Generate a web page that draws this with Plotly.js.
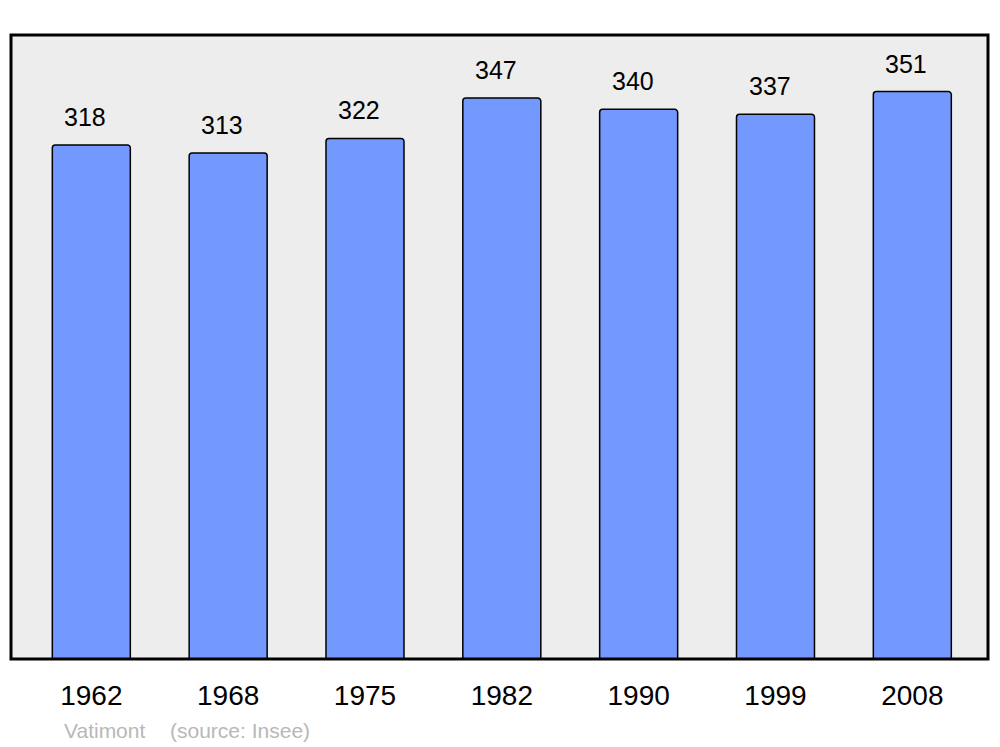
<!DOCTYPE html>
<html>
<head>
<meta charset="utf-8">
<script src="https://cdn.plot.ly/plotly-3.0.1.min.js"></script>
<style>html,body{margin:0;padding:0;background:#fff;}#chart{width:1000px;height:747px;}</style>
</head>
<body>
<div id="chart"></div>
<script>
const years = ["1962", "1968", "1975", "1982", "1990", "1999", "2008"];
const population = [318, 313, 322, 347, 340, 337, 351];
const commune = "Vatimont";
const source = "(source: Insee)";

const positions = years.map((_, i) => i);
const font = '"Liberation Sans", Arial, sans-serif';

const trace = {
  type: 'bar',
  x: positions,
  y: population,
  width: 0.57,
  marker: {color: '#7399ff', line: {color: '#000', width: 1.5}, cornerradius: 3},
  hoverinfo: 'skip'
};

const annotations = population.map((v, i) => ({
  x: i, y: v, xref: 'x', yref: 'y', text: String(v), showarrow: false,
  yanchor: 'middle', xanchor: 'center', yshift: 28, xshift: -6,
  font: {family: font, size: 25, color: '#000'}
}));
annotations.push({
  xref: 'paper', yref: 'paper', x: 0.0522, y: -0.1138, xanchor: 'left', yanchor: 'middle',
  text: commune, showarrow: false, font: {family: font, size: 21, color: '#b8b8b8'}
});
annotations.push({
  xref: 'paper', yref: 'paper', x: 0.1607, y: -0.1138, xanchor: 'left', yanchor: 'middle',
  text: source, showarrow: false, font: {family: font, size: 21, color: '#b8b8b8'}
});

const layout = {
  width: 1000, height: 747,
  margin: {l: 11, r: 12, t: 35, b: 88, pad: 0},
  paper_bgcolor: '#ffffff',
  plot_bgcolor: '#ededed',
  showlegend: false,
  xaxis: {
    range: [-0.587, 6.553], tickvals: positions, ticktext: years,
    showgrid: false, zeroline: false, showline: false, ticks: '',
    ticklabelstandoff: 17,
    tickfont: {family: font, size: 28, color: '#000'}, fixedrange: true
  },
  yaxis: {
    range: [0, 386], showgrid: false, zeroline: false, showline: false,
    showticklabels: false, ticks: '', fixedrange: true
  },
  shapes: [{
    type: 'rect', xref: 'paper', yref: 'paper', x0: 0, x1: 1, y0: 0, y1: 1,
    line: {color: '#000', width: 3}, fillcolor: 'rgba(0,0,0,0)', layer: 'above'
  }],
  annotations: annotations
};

Plotly.newPlot('chart', [trace], layout, {displayModeBar: false, staticPlot: true});
</script>
</body>
</html>
